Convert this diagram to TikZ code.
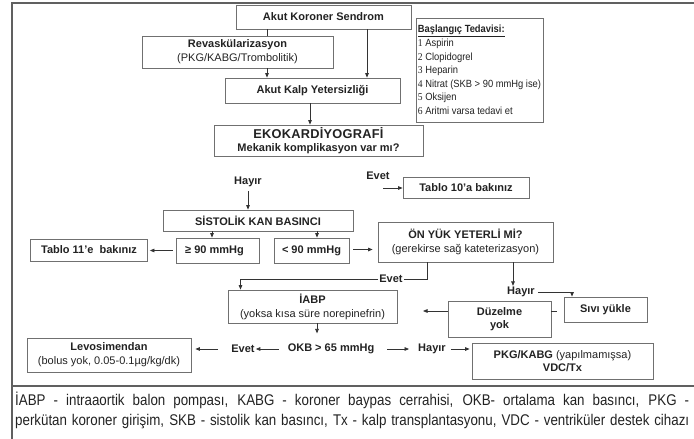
\documentclass[tikz,border=0pt]{standalone}
\usepackage{fontspec}
\setmainfont{Liberation Sans}
\newfontfamily\numfont[FakeStretch=0.92]{Liberation Serif}
\newfontfamily\basfont[FakeStretch=0.9]{Liberation Sans}
\newfontfamily\legfont[FakeStretch=0.86]{Liberation Sans}
\usetikzlibrary{arrows.meta}
\definecolor{boxgray}{HTML}{707070}
\definecolor{framegray}{HTML}{606060}
\definecolor{linec}{HTML}{333333}
\definecolor{txt}{HTML}{222222}
\begin{document}
\begin{tikzpicture}[x=1pt,y=-1pt,
  box/.style={draw=boxgray, line width=0.8pt, inner sep=2pt, align=center, text=txt,
    font=\fontsize{11}{14}\selectfont},
  lbl/.style={font=\bfseries\fontsize{11}{13}\selectfont, inner sep=1pt, text=txt},
  arr/.style={draw=linec, line width=0.8pt, -{Triangle[length=4.5pt,width=3.6pt]}},
  ln/.style={draw=linec, line width=0.8pt},
  legtext/.style={anchor=west, inner sep=0pt, text=txt, font=\legfont\fontsize{15.5}{17}\selectfont}
]
\useasboundingbox (0,0) rectangle (694,439);
% frame
\draw[framegray, line width=1.2pt] (12,439) -- (12,3) -- (694,3);
\draw[framegray, line width=1.2pt] (12,386) -- (694,386);

% nodes
\node[box, minimum width=175pt, minimum height=24pt] (aks) at (323.5,17) {\bfseries Akut Koroner Sendrom};
\node[box, minimum width=191pt, minimum height=32pt] (rev) at (237.5,52) {\textbf{Revaskülarizasyon}\\(PKG/KABG/Trombolitik)};
\node[box, minimum width=175pt, minimum height=25pt] (aky) at (312.5,90.5) {\bfseries Akut Kalp Yetersizliği};
\node[draw=boxgray, line width=0.8pt, minimum width=127pt, minimum height=104pt,
  inner sep=2pt, align=left, text=txt, font=\basfont\fontsize{10.4}{13.6}\selectfont] (bas) at (479.5,70)
  {\textbf{\underline{Başlangıç Tedavisi:}}\\
   {\numfont 1} Aspirin\\
   {\numfont 2} Clopidogrel\\
   {\numfont 3} Heparin\\
   {\numfont 4} Nitrat (SKB > 90 mmHg ise)\\
   {\numfont 5} Oksijen\\
   {\numfont 6} Aritmi varsa tedavi et};
\node[box, minimum width=209pt, minimum height=31pt, font=\fontsize{11}{13}\selectfont] (eko) at (318.5,140.5)
  {\textbf{\fontsize{12.8}{13}\selectfont\addfontfeature{LetterSpace=2}EKOKARDİYOGRAFİ}\\\textbf{Mekanik komplikasyon var mı?}};

\node[lbl] (h1) at (248,182) {Hayır};
\node[lbl] (e1) at (378,176) {Evet};
\node[box, minimum width=126pt, minimum height=21pt] (t10) at (466,187.5) {\bfseries Tablo 10’a bakınız};

\node[box, minimum width=190pt, minimum height=21pt] (sis) at (258,220.5) {\bfseries SİSTOLİK KAN BASINCI};
\node[box, minimum width=83pt, minimum height=25pt] (ge) at (217.5,250.5) {\bfseries ≥ 90 mmHg\hspace{6pt}};
\node[box, minimum width=75pt, minimum height=25pt] (lt) at (311.5,250.5) {\bfseries < 90 mmHg};
\node[box, minimum width=117pt, minimum height=22pt] (t11) at (89,250) {\bfseries Tablo 11’e\ \ bakınız};
\node[box, minimum width=175pt, minimum height=40pt] (on) at (465.5,242)
  {\textbf{ÖN YÜK YETERLİ Mİ?}\\(gerekirse sağ kateterizasyon)};

\node[lbl] (e2) at (391,279) {Evet};
\node[box, minimum width=169pt, minimum height=33pt] (iabp) at (312.5,306.5)
  {\textbf{İABP}\\(yoksa kısa süre norepinefrin)};
\node[lbl] (h2) at (521,292) {Hayır};
\node[box, minimum width=83pt, minimum height=25pt] (siv) at (605.5,309.5) {\bfseries Sıvı yükle};
\node[box, minimum width=103pt, minimum height=36pt, font=\fontsize{11}{13}\selectfont] (duz) at (499.5,319) {\textbf{Düzelme}\\\textbf{yok}};

\node[lbl] (okb) at (331,349) {OKB > 65 mmHg};
\node[lbl] (e3) at (243,349) {Evet};
\node[lbl] (h3) at (432,349) {Hayır};
\node[box, minimum width=164pt, minimum height=34pt] (levo) at (109,355)
  {\textbf{Levosimendan}\\(bolus yok, 0.05-0.1µg/kg/dk)};
\node[box, minimum width=181pt, minimum height=36pt, font=\fontsize{11}{13}\selectfont] (pkg) at (562.5,361)
  {\textbf{PKG/KABG} (yapılmamışsa)\\\textbf{VDC/Tx}};

\coordinate (e1a) at (383,188);
\coordinate (stub) at (557,311);
\coordinate (ia) at (423,311);

% connectors
\draw[ln] ([xshift=-56.5pt]aks.south) -- ([xshift=-56.5pt]aks.south |- rev.north);
\draw[arr] ([xshift=29.5pt]rev.south) -- ([xshift=29.5pt]rev.south |- aky.north);
\draw[arr] ([xshift=43.5pt]aks.south) -- ([xshift=43.5pt]aks.south |- aky.north);
\draw[arr] ([xshift=-2.5pt]aky.south) -- ([xshift=-2.5pt]aky.south |- eko.north);
\draw[arr, shorten <=3pt] (h1.south) -- (h1.south |- sis.north);
\draw[arr] (e1a) -- (e1a -| t10.west);
\draw[arr] ([xshift=-5.5pt]ge.north |- sis.south) -- ([xshift=-5.5pt]ge.north);
\draw[arr] ([xshift=5.5pt]lt.north |- sis.south) -- ([xshift=5.5pt]lt.north);
\draw[arr, shorten <=3pt, shorten >=2pt] (ge.west) -- (ge.west -| t11.east);
\draw[arr, shorten <=4pt, shorten >=5pt] ([yshift=1pt]lt.east) -- ([yshift=1pt]lt.east -| on.west);
\draw[ln] ([xshift=-38.5pt]on.south) |- (e2.east);
\draw[arr] (e2.west) -| ([xshift=-72pt]iabp.north);
\draw[arr] ([xshift=47.5pt]on.south) -- ([xshift=47.5pt]on.south |- h2.north);
\draw[arr] ([xshift=2pt]h2.east) -| ([xshift=-33.5pt]siv.north);
\draw[ln] (duz.east |- stub) -- (stub);
\draw[arr] (duz.west |- ia) -- (ia);
\draw[arr] ([xshift=4.5pt]iabp.south) -- ++(0,10);
\draw[arr, shorten <=8pt] (okb.west) -- (e3.east);
\draw[arr, shorten <=12pt, shorten >=4pt] (e3.west) -- (e3.west -| levo.east);
\draw[arr, shorten <=12pt, shorten >=8pt] (okb.east) -- (h3.west);
\draw[arr, shorten <=4pt, shorten >=2pt] (h3.east) -- (h3.east -| pkg.west);

% legend
\node[legtext] (leg1) at (15,400) {\makebox[674pt][s]{İABP - intraaortik balon pompası, KABG - koroner baypas cerrahisi, OKB- ortalama kan basıncı, PKG -}};
\node[legtext] (leg2) at (15,422) {\makebox[674pt][s]{perkütan koroner girişim, SKB - sistolik kan basıncı, Tx - kalp transplantasyonu, VDC - ventriküler destek cihazı}};
\end{tikzpicture}
\end{document}
